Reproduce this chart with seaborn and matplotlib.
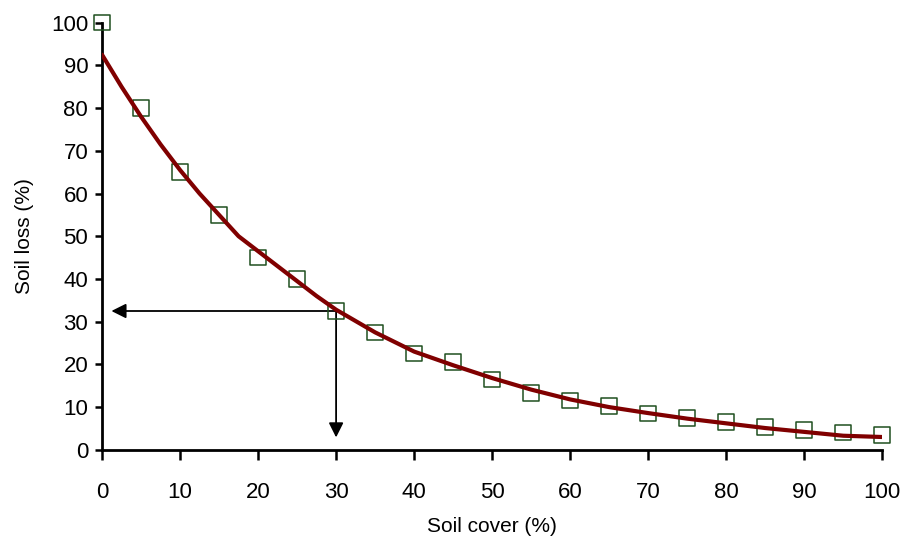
import matplotlib
matplotlib.use("Agg")
import matplotlib.pyplot as plt
import seaborn as sns
import pandas as pd

# measured points (squares)
cover = [0, 5, 10, 15, 20, 25, 30, 35, 40, 45, 50, 55, 60, 65, 70, 75, 80, 85, 90, 95, 100]
loss = [100, 80, 65, 55, 45, 40, 32.5, 27.5, 22.5, 20.5, 16.5, 13.3, 11.5, 10.3, 8.5, 7.5, 6.5, 5.4, 4.6, 4.0, 3.5]

# fitted curve
curve_x = [0, 2.5, 5, 7.5, 10, 12.5, 15, 17.5, 20, 22.5, 25, 27.5, 30, 35, 40, 45, 50, 55, 60, 65, 70, 75, 80, 85, 90, 95, 100]
curve_y = [92.5, 85, 78, 71.5, 65.5, 60, 55, 50, 46.5, 43, 39.5, 36, 32.8, 27.5, 23, 19.8, 16.8, 14.1, 11.8, 10, 8.6, 7.3, 6.2, 5.1, 4.2, 3.3, 3.0]

# reading arrows: from the curve at 30 % cover
arrow_x = 30
arrow_y = 32.5

points = pd.DataFrame({"cover": cover, "loss": loss})
fit = pd.DataFrame({"cover": curve_x, "loss": curve_y})

sns.set_style("ticks")
plt.rcParams["font.family"] = ["Liberation Sans", "DejaVu Sans"]
plt.rcParams["text.color"] = "black"
plt.rcParams["axes.labelcolor"] = "black"
plt.rcParams["xtick.color"] = "black"
plt.rcParams["ytick.color"] = "black"

fig = plt.figure(figsize=(9.03, 5.4), dpi=100)
ax = fig.add_axes([0.113, 0.167, 0.864, 0.791])

sns.scatterplot(data=points, x="cover", y="loss", marker="s", s=125,
                facecolor="none", edgecolor="#1f501f", linewidth=1.1, ax=ax,
                zorder=3, clip_on=False)
sns.lineplot(data=fit, x="cover", y="loss", color="#800000", linewidth=3, ax=ax, zorder=4)

# arrows
ax.annotate("", xy=(1.2, arrow_y), xytext=(arrow_x, arrow_y),
            arrowprops=dict(arrowstyle="-|>", color="black", lw=1.3, mutation_scale=22,
                            shrinkA=0, shrinkB=0), zorder=2)
ax.annotate("", xy=(arrow_x, 2.9), xytext=(arrow_x, arrow_y),
            arrowprops=dict(arrowstyle="-|>", color="black", lw=1.3, mutation_scale=22,
                            shrinkA=0, shrinkB=0), zorder=2)

ax.set_xlim(0, 100)
ax.set_ylim(0, 100)
ax.set_xticks(range(0, 101, 10))
ax.set_yticks(range(0, 101, 10))
ax.tick_params(axis="both", width=1.8, direction="out", color="black")
ax.tick_params(axis="y", labelsize=16, length=5, pad=5)
ax.tick_params(axis="x", labelsize=16, length=7, pad=16)
for s in ["left", "bottom"]:
    ax.spines[s].set_linewidth(2)
    ax.spines[s].set_color("black")
sns.despine(ax=ax)

ax.set_xlabel("Soil cover (%)", fontsize=15)
ax.xaxis.set_label_coords(0.5, -0.158)
ax.set_ylabel("Soil loss (%)", fontsize=15, labelpad=12)

fig.savefig("out.png", dpi=100)
